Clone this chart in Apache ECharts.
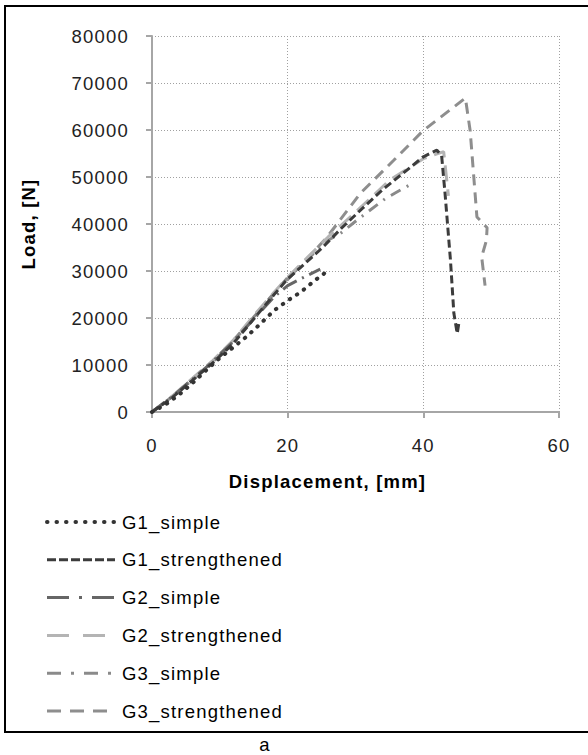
<!DOCTYPE html>
<html>
<head>
<meta charset="utf-8">
<script src="https://cdn.jsdelivr.net/npm/echarts@6/dist/echarts.min.js"></script>
<style>
html,body{margin:0;padding:0;background:#fff;}
#chart{width:588px;height:755px;}
#chart text{letter-spacing:1.2px;}
</style>
</head>
<body>
<div id="chart"></div>
<script>
// ---- data ----
var xTicks = [0, 20, 40, 60];
var yTicks = [0, 10000, 20000, 30000, 40000, 50000, 60000, 70000, 80000];
var seriesNames = ["G1_simple", "G1_strengthened", "G2_simple", "G2_strengthened", "G3_simple", "G3_strengthened"];

var g1SimpleX = [0, 2, 4, 6, 8, 10, 12, 14, 16, 18, 20, 22, 24, 25.5, 26];
var g1SimpleY = [0, 1600, 3700, 6200, 8900, 11500, 13800, 16100, 18800, 21600, 23700, 25600, 28000, 29600, 29700];

var g1StrX = [0, 3, 6, 9, 12, 15, 18, 20, 22, 25, 28, 31, 34, 37, 40, 42, 42.7, 43.2, 44, 44.5, 45, 45.3];
var g1StrY = [0, 3100, 6800, 10500, 14600, 19800, 25000, 28300, 30900, 34800, 39200, 43300, 47300, 50800, 54300, 55700, 54500, 46500, 32300, 21000, 16700, 19500];

var g2SimpleX = [0, 3, 6, 9, 12, 15, 18, 20, 22, 24.8];
var g2SimpleY = [0, 3300, 7000, 10800, 15000, 19800, 24500, 26900, 28400, 30400];

var g2StrX = [0, 3, 6, 9, 12, 15, 18, 20, 23, 26, 30, 35, 40, 43, 43.7];
var g2StrY = [0, 3400, 7200, 11000, 15300, 20500, 25500, 28700, 33000, 37300, 42500, 49300, 53900, 55400, 46000];

var g3SimpleX = [0, 3, 6, 9, 12, 15, 18, 21, 24, 26, 27.7, 30.2, 34.4, 36.1, 38.1];
var g3SimpleY = [0, 3200, 6900, 10700, 15000, 20200, 25200, 29700, 34000, 36600, 37900, 40800, 45400, 46800, 48400];

var g3StrX = [0, 3, 6, 9, 12, 15, 18, 20, 21.8, 25.8, 30.7, 35.6, 40, 44.5, 46.2, 46.9, 47.9, 49.4, 49.3, 48.6, 49.1];
var g3StrY = [0, 3300, 7100, 10900, 15200, 20300, 25300, 28600, 30900, 37200, 46500, 53500, 59900, 64900, 66800, 59900, 41500, 39200, 36500, 33000, 26900];

function pairs(xs, ys) { return xs.map(function (x, i) { return [x, ys[i]]; }); }

var seriesData = [
  pairs(g1SimpleX, g1SimpleY),
  pairs(g1StrX, g1StrY),
  pairs(g2SimpleX, g2SimpleY),
  pairs(g2StrX, g2StrY),
  pairs(g3SimpleX, g3SimpleY),
  pairs(g3StrX, g3StrY)
];

var styles = [
  {color: '#333333', width: 4, type: [0.5, 8], cap: 'round'},
  {color: '#3c3c3c', width: 3, type: [8, 4], cap: 'butt'},
  {color: '#666666', width: 3, type: [16, 6, 2, 6], cap: 'butt'},
  {color: '#b4b4b4', width: 3, type: [16, 8], cap: 'butt'},
  {color: '#8a8a8a', width: 3, type: [11, 7, 2, 7], cap: 'butt'},
  {color: '#8e8e8e', width: 3, type: [11, 7], cap: 'butt'}
];
var legendDash = [
  [0.5, 9], [9, 3], [22, 10, 3, 10], [22, 14], [14, 10, 3, 10], [14, 9]
];

var font = "'Liberation Sans', Arial, sans-serif";
var fs = 18.5;

var chart = echarts.init(document.getElementById('chart'), null, {renderer: 'svg'});

var option = {
  animation: false,
  backgroundColor: '#fff',
  grid: {left: 152, right: 29, top: 36, bottom: 343, containLabel: false},
  xAxis: {
    type: 'value', min: xTicks[0], max: xTicks[xTicks.length - 1], interval: 20,
    name: 'Displacement, [mm]', nameLocation: 'middle', nameGap: 60,
    nameTextStyle: {fontFamily: font, fontSize: fs, fontWeight: 'bold', color: '#000', padding: [0, 56, 0, 0]},
    axisLine: {show: true, lineStyle: {color: '#a6a6a6', width: 2}},
    axisTick: {show: true, inside: false, length: 6, lineStyle: {color: '#a6a6a6', width: 2}},
    axisLabel: {fontFamily: font, fontSize: fs, color: '#222', margin: 24},
    splitLine: {show: true, lineStyle: {color: '#a0a0a0', type: [1, 2], width: 1}}
  },
  yAxis: {
    type: 'value', min: yTicks[0], max: yTicks[yTicks.length - 1], interval: 10000,
    name: 'Load, [N]', nameLocation: 'middle', nameGap: 114,
    nameTextStyle: {fontFamily: font, fontSize: fs, fontWeight: 'bold', color: '#000'},
    axisLine: {show: true, lineStyle: {color: '#a6a6a6', width: 2}},
    axisTick: {show: true, inside: false, length: 6, lineStyle: {color: '#a6a6a6', width: 2}},
    axisLabel: {fontFamily: font, fontSize: fs, color: '#222', margin: 23,
      formatter: function (v) { return String(v); }},
    splitLine: {show: true, lineStyle: {color: '#a0a0a0', type: [1, 2], width: 1}}
  },
  legend: {
    orient: 'vertical', left: 45, top: 512, padding: 0,
    itemWidth: 68, itemHeight: 20, itemGap: 17.8,
    itemStyle: {opacity: 0},
    textStyle: {fontFamily: font, fontSize: fs, color: '#000', lineHeight: 20, padding: [0, 0, 0, 2]},
    data: seriesNames.map(function (n, i) {
      return {
        name: n,
        itemStyle: {opacity: 0},
        lineStyle: {color: styles[i].color, width: styles[i].width, type: legendDash[i], cap: styles[i].cap, opacity: 1}
      };
    })
  },
  graphic: [
    {type: 'rect', shape: {x: 5, y: 6, width: 600, height: 726}, style: {fill: 'none', stroke: '#000', lineWidth: 2}, silent: true},
    {type: 'text', x: 265, y: 744, style: {text: 'a', font: fs + 'px ' + font, fill: '#000', align: 'center', verticalAlign: 'middle'}}
  ],
  series: seriesNames.map(function (n, i) {
    return {
      name: n, type: 'line', data: seriesData[i], showSymbol: false, symbol: 'none',
      smooth: false, z: 10 - i,
      lineStyle: {color: styles[i].color, width: styles[i].width, type: styles[i].type, cap: styles[i].cap},
      itemStyle: {color: styles[i].color}
    };
  })
};
chart.setOption(option);
</script>
</body>
</html>
